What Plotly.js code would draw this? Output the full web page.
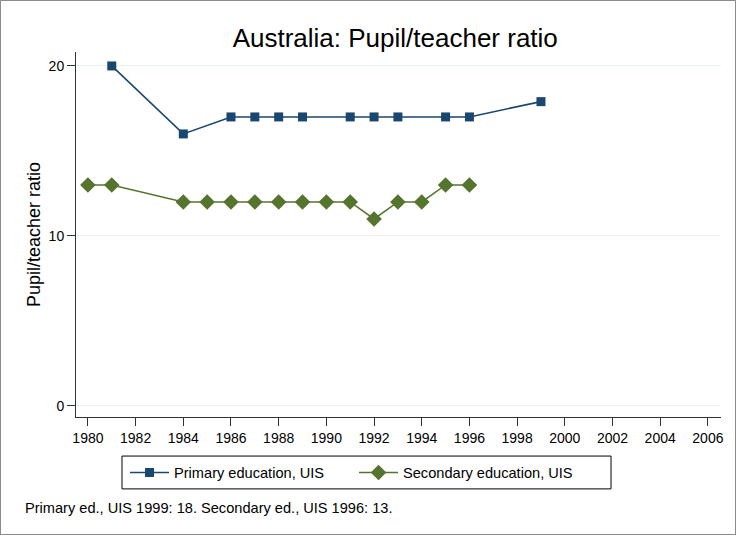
<!DOCTYPE html>
<html>
<head>
<meta charset="utf-8">
<script src="https://cdn.plot.ly/plotly-3.0.1.min.js"></script>
<style>
html,body{margin:0;padding:0;background:#fff;}
#wrap{position:relative;width:736px;height:535px;}
#chart{width:736px;height:535px;}
#frame{position:absolute;left:0;top:0;width:734px;height:533px;border:1px solid #8c8c8c;pointer-events:none;}
</style>
</head>
<body>
<div id="wrap"><div id="chart"></div><div id="frame"></div></div>
<script>
const primaryYears = [1981, 1984, 1986, 1987, 1988, 1989, 1991, 1992, 1993, 1995, 1996, 1999];
const primaryValues = [20, 16, 17, 17, 17, 17, 17, 17, 17, 17, 17, 17.9];
const secondaryYears = [1980, 1981, 1984, 1985, 1986, 1987, 1988, 1989, 1990, 1991, 1992, 1993, 1994, 1995, 1996];
const secondaryValues = [13, 13, 12, 12, 12, 12, 12, 12, 12, 12, 11, 12, 12, 13, 13];
const xTicks = [1980,1982,1984,1986,1988,1990,1992,1994,1996,1998,2000,2002,2004,2006];
const yTicks = [0, 10, 20];
const seriesNames = ["Primary education, UIS", "Secondary education, UIS"];
const titleText = "Australia: Pupil/teacher ratio";
const yTitle = "Pupil/teacher ratio";
const noteText = "Primary ed., UIS 1999: 18. Secondary ed., UIS 1996: 13.";

const font = "Liberation Sans, Arial, sans-serif";
const traces = [
  {x: primaryYears, y: primaryValues, name: seriesNames[0], type: "scatter", mode: "lines+markers",
   line: {color: "#1a476f", width: 1.6}, marker: {symbol: "square", size: 9, color: "#1a476f"}},
  {x: secondaryYears, y: secondaryValues, name: seriesNames[1], type: "scatter", mode: "lines+markers",
   line: {color: "#55752f", width: 1.6}, marker: {symbol: "diamond", size: 12, color: "#55752f"}}
];
const layout = {
  width: 736, height: 535,
  margin: {l: 76, r: 15, t: 52, b: 118},
  paper_bgcolor: "#fff", plot_bgcolor: "#fff",
  font: {family: font, color: "#000", size: 14},
  title: {text: titleText, font: {size: 26, family: font, color: "#000"}, x: 0.537, xanchor: "center", y: 0.929, yanchor: "middle"},
  xaxis: {range: [1979.5, 2006.55], tickvals: xTicks, ticks: "outside", ticklen: 8, tickcolor: "#333",
          showgrid: false, zeroline: false, showline: true, linecolor: "#333", linewidth: 1,
          tickfont: {size: 14}, fixedrange: true},
  yaxis: {range: [-0.65, 20.82], tickvals: yTicks, ticks: "outside", ticklen: 8, tickcolor: "#333",
          showgrid: true, gridcolor: "#eaf2f3", gridwidth: 1, zeroline: false, showline: true, linecolor: "#333", linewidth: 1,
          tickfont: {size: 14}, tickangle: 0,
          title: {text: yTitle, font: {size: 18}, standoff: 3}},
  showlegend: true,
  legend: {orientation: "h", x: 0.076, xanchor: "left", y: -0.152, yanchor: "middle",
           borderwidth: 0, font: {size: 14.6}, bgcolor: "rgba(0,0,0,0)",
           entrywidth: 175, entrywidthmode: "pixels", itemwidth: 39, tracegroupgap: 0},
  shapes: [{type: "rect", xref: "paper", yref: "paper", x0: 0.0713, x1: 0.8295, y0: -0.197, y1: -0.107,
            line: {color: "#000", width: 1}, fillcolor: "rgba(0,0,0,0)"}],
  annotations: [{text: noteText, xref: "paper", yref: "paper", x: -0.0822, y: -0.249,
                 xanchor: "left", yanchor: "middle", showarrow: false, font: {size: 14.6}}]
};
Plotly.newPlot("chart", traces, layout, {displayModeBar: false, staticPlot: true});
</script>
</body>
</html>
